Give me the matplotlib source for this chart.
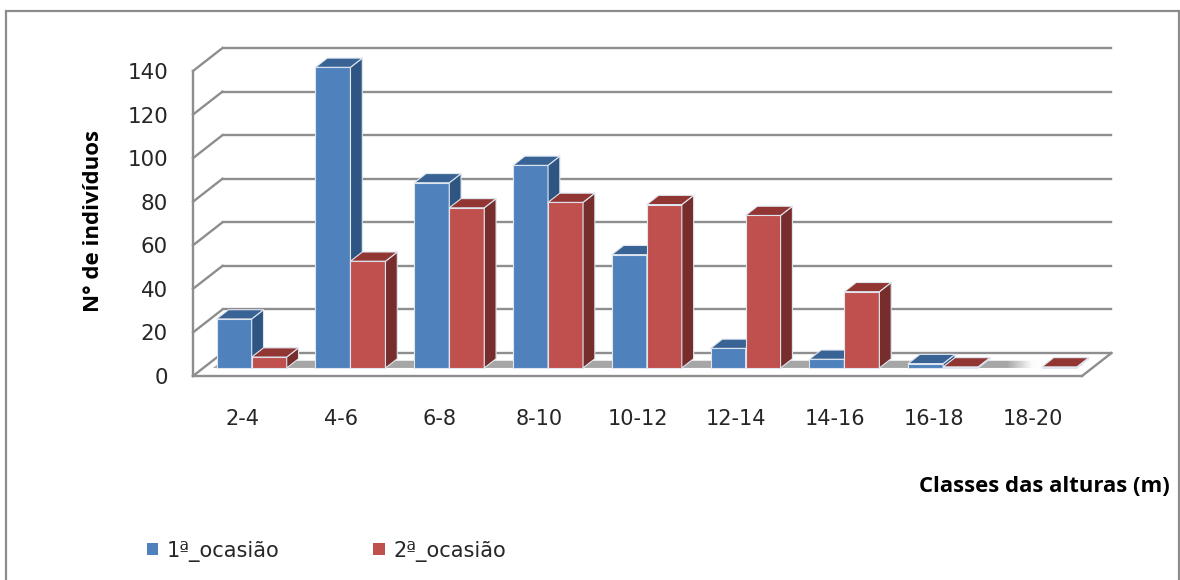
import numpy as np
import matplotlib
matplotlib.use("Agg")
import matplotlib.pyplot as plt
from matplotlib.patches import Polygon, Rectangle, Patch

# Chart data
classes = ["2-4", "4-6", "6-8", "8-10", "10-12", "12-14", "14-16", "16-18", "18-20"]
occasion_1 = [22.5, 138, 85, 93, 52, 9, 4, 2, 0]
occasion_2 = [5, 49, 73.5, 76, 75, 70, 35, 0.5, 0.5]
series_names = ["1ª_ocasião", "2ª_ocasião"]
y_ticks = [0, 20, 40, 60, 80, 100, 120, 140]

W, H = 1180, 580
BLUE = ("#4f81bd", "#2f5682", "#386394")
RED = ("#c0504d", "#772d2b", "#923634")
EDGE = "#dfe6f0"
AXIS = "#8e8e8e"

fig = plt.figure(figsize=(W / 100, H / 100), dpi=100, facecolor="white")
fig.add_artist(Rectangle((6 / W, -0.02), (1179 - 6) / W, 1.02 - 11 / H,
                         transform=fig.transFigure, fill=False,
                         edgecolor="#8c8c8c", linewidth=1.6))

# The axes span the front plane of the oblique box
ax = fig.add_axes([193 / W, 1 - 376 / H, (1082 - 193) / W, (376 - 71) / H])
ax.set_xlim(-0.5, 8.5)
ax.set_ylim(0, 140)
ax.patch.set_visible(False)
for s in ax.spines.values():
    s.set_visible(False)

# Oblique offset reached at full depth, in data units
DEPTH_X = 29.5 / (889 / 9)
DEPTH_Y = 23 / (305 / 140)


def project(x, y, d):
    return x + DEPTH_X * d, y + DEPTH_Y * d


def line3d(p, q, **kw):
    a, b = project(*p), project(*q)
    ax.plot([a[0], b[0]], [a[1], b[1]], color=AXIS, lw=1.7, clip_on=False,
            solid_capstyle="projecting", zorder=1, **kw)


# Walls and floor
for v in y_ticks:
    line3d((-0.5, v, 1), (8.5, v, 1))
    line3d((-0.5, v, 0), (-0.5, v, 1))
line3d((-0.5, 0, 0), (-0.5, 140, 0))
line3d((-0.5, 0, 0), (8.5, 0, 0))
line3d((8.5, 0, 0), (8.5, 0, 1))

# Soft grey shadow band on the floor, fading out near the last classes
stops_x = [-0.5, 7.75, 8.0, 8.15, 8.35, 8.9]
stops_v = [0.65, 0.65, 0.98, 1.0, 0.70, 0.72]
grad_x = np.linspace(-0.5, 8.9, 400)
grad = np.interp(grad_x, stops_x, stops_v)[None, :]
band = ax.imshow(grad, cmap="gray", vmin=0, vmax=1, aspect="auto",
                 extent=(-0.5, 8.9, 3.7, 7.0), zorder=1.5, clip_on=True)
band_clip = Polygon([(-0.30, 3.7), (8.40, 3.7), (8.68, 7.0), (-0.20, 7.0)],
                    transform=ax.transData, fill=False, edgecolor="none")
ax.add_patch(band_clip)
band.set_clip_path(band_clip)
ax.set_xlim(-0.5, 8.5)
ax.set_ylim(0, 140)


def bar3d(x0, x1, value, colors, z):
    d0, d1 = 0.35, 0.75
    front_col, side_col, top_col = colors
    faces = [
        ([(x0, 0, d0), (x1, 0, d0), (x1, value, d0), (x0, value, d0)], front_col),
        ([(x1, 0, d0), (x1, 0, d1), (x1, value, d1), (x1, value, d0)], side_col),
        ([(x0, value, d0), (x1, value, d0), (x1, value, d1), (x0, value, d1)], top_col),
    ]
    for pts, col in faces:
        ax.add_patch(Polygon([project(*p) for p in pts], closed=True,
                             facecolor=col, edgecolor=EDGE, linewidth=0.8,
                             joinstyle="round", clip_on=False, zorder=z))


BAR_W = 35.0 / (889 / 9)
NUDGE = 1.0 / (889 / 9)
for i, (a, b) in enumerate(zip(occasion_1, occasion_2)):
    if a > 0:
        bar3d(i - BAR_W - NUDGE, i - NUDGE, a, BLUE, 3 + i)
    if b > 0:
        bar3d(i - NUDGE, i + BAR_W - NUDGE, b, RED, 3.5 + i)

# Axis text
font = ["DejaVu Sans"]
ax.set_xticks(range(len(classes)), classes, family=font, fontsize=15.0, color="#262626")
ax.set_yticks(y_ticks, [str(v) for v in y_ticks], family=font, fontsize=15.4, color="#262626")
ax.tick_params(axis="x", length=0, pad=24)
ax.tick_params(axis="y", length=0, pad=18)

bold = ["Open Sans"]
fig.text(93 / W, 1 - 221 / H, "N° de indivíduos", rotation=90, ha="center", va="center",
         family=bold, fontweight="bold", fontsize=16.0, color="black")
fig.text(1170 / W, 1 - 486 / H, "Classes das alturas (m)", ha="right", va="center",
         family=bold, fontweight="bold", fontsize=15.9, color="black")

handles = [Patch(facecolor=BLUE[0]), Patch(facecolor=RED[0])]
fig.legend(handles, series_names, loc="center left", bbox_to_anchor=(147 / W, 1 - 551 / H),
       ncols=2, frameon=False, prop={"family": "DejaVu Sans", "size": 15.0},
       handlelength=0.55, handleheight=0.55, handletextpad=0.4, columnspacing=4.5,
       labelcolor="#262626", borderpad=0, borderaxespad=0)

fig.savefig("out.png", dpi=100, facecolor="white")
